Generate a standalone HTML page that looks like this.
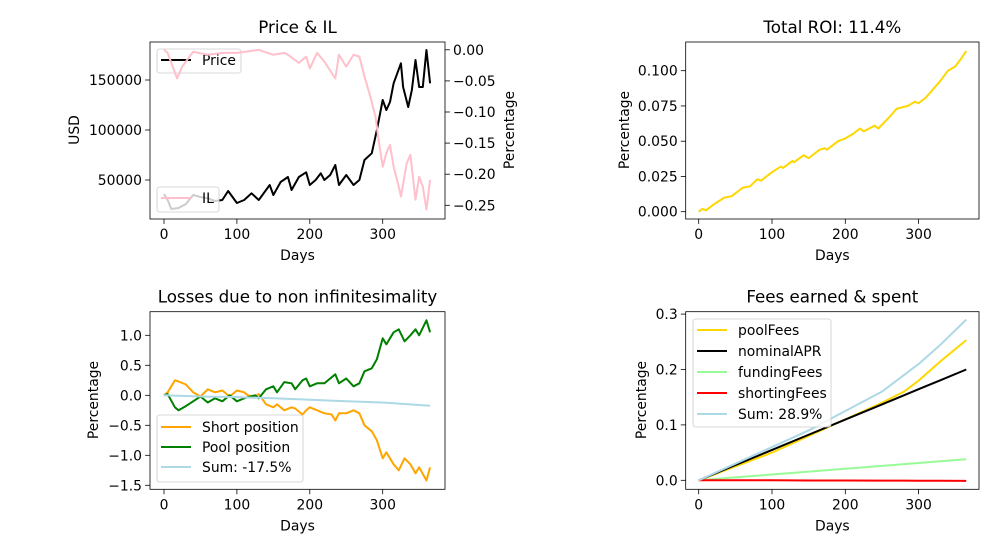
<!DOCTYPE html>
<html><head><meta charset="utf-8">
<style>
html,body{margin:0;padding:0;background:#fff;}
svg{display:block;font-family:"DejaVu Sans","Liberation Sans",sans-serif;}
</style></head>
<body>
<svg id="fig" width="1001" height="555" viewBox="0 0 1001 555"></svg>
<script>
// ---- Data ----
const priceDays = [0,5,10,20,30,40,50,60,70,80,88,100,110,120,130,140,145,150,160,170,175,185,195,200,208,215,220,228,235,240,250,260,268,275,285,292,300,305,310,315,320,325,328,335,340,345,350,355,360,365];
const priceVals = [36000,30000,21000,22000,26000,35000,33000,31700,29000,30000,39000,27000,30000,36700,30000,40000,45000,35000,48000,53000,40000,53000,57700,45000,50000,56700,50000,55000,65000,45000,55000,45000,50000,70000,76700,100000,130000,120000,128000,146700,156700,166700,143000,123000,140000,170000,143000,143000,180000,146700];
const ilDays = [0,5,10,18,25,40,60,80,100,130,150,165,170,185,195,200,210,220,235,240,250,260,268,275,283,290,295,300,305,310,315,322,325,333,338,345,350,355,360,365];
const ilVals = [0,-0.005,-0.021,-0.046,-0.027,-0.003,-0.008,-0.005,-0.005,0,-0.008,-0.005,-0.008,-0.021,-0.011,-0.030,-0.005,-0.019,-0.046,-0.008,-0.027,-0.008,-0.011,-0.043,-0.075,-0.107,-0.150,-0.188,-0.166,-0.153,-0.188,-0.220,-0.236,-0.182,-0.169,-0.241,-0.204,-0.220,-0.257,-0.209];
const roiDays = [0,5,10,20,35,45,60,70,80,85,100,112,115,128,130,143,150,165,172,175,190,200,210,220,225,240,245,260,270,285,295,300,310,320,330,340,350,360,365];
const roiVals = [0,0.002,0.001,0.005,0.010,0.011,0.017,0.018,0.023,0.022,0.028,0.032,0.031,0.036,0.035,0.040,0.038,0.044,0.045,0.044,0.050,0.052,0.055,0.059,0.057,0.061,0.059,0.067,0.073,0.075,0.078,0.077,0.081,0.087,0.093,0.100,0.103,0.110,0.114];
const lossDays = [0,5,15,20,30,40,50,60,70,80,90,100,110,115,125,130,140,150,155,165,175,180,190,195,200,210,220,230,235,240,250,260,268,275,285,292,300,305,315,322,330,338,345,350,360,365];
const poolPos = [0,0.02,-0.2,-0.25,-0.18,-0.1,-0.02,-0.12,-0.05,-0.1,0,-0.1,-0.05,-0.03,0,-0.05,0.1,0.15,0.05,0.22,0.2,0.1,0.25,0.28,0.15,0.2,0.2,0.3,0.35,0.2,0.28,0.15,0.2,0.4,0.45,0.6,0.95,0.85,1.05,1.1,0.9,1.0,1.1,1.0,1.25,1.05];
const shortPos = [0,0.05,0.25,0.23,0.18,0.05,-0.02,0.1,0.05,0.08,-0.02,0.08,0.05,0,-0.02,0.02,-0.15,-0.2,-0.15,-0.25,-0.2,-0.22,-0.32,-0.25,-0.2,-0.25,-0.3,-0.32,-0.42,-0.3,-0.3,-0.25,-0.3,-0.5,-0.6,-0.75,-1.05,-0.95,-1.15,-1.25,-1.05,-1.15,-1.3,-1.2,-1.42,-1.2];
const sumLossDays = [0,50,100,150,200,250,300,365];
const sumLossVals = [0,-0.02,-0.03,-0.05,-0.075,-0.1,-0.12,-0.175];
const feeDays = [0,50,100,150,200,250,280,300,330,365];
const poolFees = [0,0.025,0.05,0.08,0.11,0.14,0.16,0.18,0.215,0.253];
const nominalAPR = [0,0.0274,0.0548,0.0822,0.1096,0.137,0.1534,0.1644,0.1808,0.2];
const fundingFees = [0,0.0052,0.0104,0.0156,0.0208,0.026,0.0291,0.0312,0.0343,0.038];
const shortingFees = [0,0,0,-0.0003,-0.0004,-0.0005,-0.0006,-0.0007,-0.0008,-0.001];
const feeSum = [0,0.03,0.06,0.09,0.125,0.16,0.19,0.21,0.245,0.29];
const xTicks = [0,100,200,300];
const priceTicks = [50000,100000,150000];
const ilTicks = [0,-0.05,-0.10,-0.15,-0.20,-0.25];
const roiTicks = [0,0.025,0.05,0.075,0.1];
const lossTicks = [1.0,0.5,0.0,-0.5,-1.0,-1.5];
const feeTicks = [0,0.1,0.2,0.3];

const NS="http://www.w3.org/2000/svg";
const svg=document.getElementById('fig');
function el(tag,attrs,parent){const e=document.createElementNS(NS,tag);for(const k in attrs)e.setAttribute(k,attrs[k]);(parent||svg).appendChild(e);return e;}
function txt(s,attrs,parent){const t=el('text',attrs,parent);t.textContent=s;return t;}
function fmt(v,d){return (v<0?'\u2212':'')+Math.abs(v).toFixed(d);}
function lin(d0,d1,r0,r1){return v=>r0+(v-d0)*(r1-r0)/(d1-d0);}

function axes(name,L,R,T,B,xs,title){
  const g=el('g',{});
  
  
  txt(title,{x:(L+R)/2,y:T-9,'text-anchor':'middle','font-size':16.7,fill:'#000'},g);
  xTicks.forEach(t=>{const x=xs(t);
    el('line',{x1:x,x2:x,y1:B,y2:B+4.9,stroke:'#000','stroke-width':0.8},g);
    const l=txt(String(t),{x:x,y:B+20,'text-anchor':'middle','font-size':13.9},g);
    });
  const xl=txt('Days',{x:(L+R)/2,y:B+41,'text-anchor':'middle','font-size':13.9},g);
  
  return g;
}
function yTicks(g,ticks,ys,L,dec,side){
  ticks.forEach(t=>{const y=ys(t);
    if(side==='right'){el('line',{x1:L,x2:L+4.9,y1:y,y2:y,stroke:'#000','stroke-width':0.8},g);
      txt(fmt(t,dec),{x:L+8,y:y+5,'text-anchor':'start','font-size':13.9},g);}
    else{el('line',{x1:L-4.9,x2:L,y1:y,y2:y,stroke:'#000','stroke-width':0.8},g);
      const l=txt(fmt(t,dec),{x:L-8,y:y+5,'text-anchor':'end','font-size':13.9},g);
      }});
}
function ylabel(g,s,x,y,name){const t=txt(s,{x:x,y:y,'text-anchor':'middle','font-size':13.9,transform:`rotate(-90 ${x} ${y})`},g);}
function line(g,days,vals,xs,ys,color,name,clip){
  const p=el('polyline',{points:days.map((d,i)=>xs(d).toFixed(2)+','+ys(vals[i]).toFixed(2)).join(' '),fill:'none',stroke:color,'stroke-width':2,'stroke-linejoin':'round'},g);
  if(clip)p.setAttribute('clip-path',clip);
  
  
}
function frame(g,L,R,T,B){el('rect',{x:L,y:T,width:R-L,height:B-T,fill:'none',stroke:'#000','stroke-width':0.8},g);}
function legend(g,x,y,w,h,entries,name){
  const lg=el('g',{},g);
  
  
  el('rect',{x:x,y:y,width:w,height:h,rx:2.5,fill:'rgba(255,255,255,0.8)',stroke:'#ccc','stroke-width':0.8},lg);
  entries.forEach(e=>{el('line',{x1:x+4,x2:x+34,y1:e.y,y2:e.y,stroke:e.c,'stroke-width':2},lg);
    const t=txt(e.t,{x:x+45,y:e.y+5,'font-size':13.9},lg);
    });
}

// Panel 1
{const L=150,R=445,T=42,B=219;
 const xs=lin(0,100,164,236.9);
 const yp=lin(50000,150000,180,80);
 const yi=lin(0,-0.25,49.8,205.3);
 const g=axes('price-il-panel',L,R,T,B,xs,'Price & IL');
 yTicks(g,priceTicks,yp,L,0,'left');
 yTicks(g,ilTicks,yi,R,2,'right');
 ylabel(g,'USD',79,130,'y-axis-title');
 ylabel(g,'Percentage',514,130,'y-axis-title-right');
 line(g,priceDays,priceVals,xs,yp,'#000','price-line');
 legend(g,157,49,84,24,[{y:60,c:'#000',t:'Price'}],'price-legend');
 line(g,ilDays,ilVals,xs,yi,'#ffc0cb','il-line');
 legend(g,157,187,62,25,[{y:198,c:'#ffc0cb',t:'IL'}],'il-legend');
 frame(g,L,R,T,B);}
// Panel 2
{const L=685.7,R=979,T=42,B=219;
 const xs=lin(0,100,698.7,772);
 const ys=lin(0,0.1,211.7,70.7);
 const g=axes('roi-panel',L,R,T,B,xs,'Total ROI: 11.4%');
 yTicks(g,roiTicks,ys,L,3,'left');
 ylabel(g,'Percentage',629,130,'y-axis-title');
 line(g,roiDays,roiVals,xs,ys,'#ffd700','roi-line');
 frame(g,L,R,T,B);}
// Panel 3
{const L=150,R=445,T=311.7,B=489.3;
 const xs=lin(0,100,164,236.9);
 const ys=lin(0,1,395.3,335.3);
 const g=axes('losses-panel',L,R,T,B,xs,'Losses due to non infinitesimality');
 yTicks(g,lossTicks,ys,L,1,'left');
 ylabel(g,'Percentage',98,400,'y-axis-title');
 line(g,lossDays,shortPos,xs,ys,'#ffa500','short-position-line');
 line(g,lossDays,poolPos,xs,ys,'#008000','pool-position-line');
 line(g,sumLossDays,sumLossVals,xs,ys,'#add8e6','sum-line');
 legend(g,157,415,146,67,[{y:427,c:'#ffa500',t:'Short position'},{y:447,c:'#008000',t:'Pool position'},{y:467,c:'#add8e6',t:'Sum: -17.5%'}],'losses-legend');
 frame(g,L,R,T,B);}
// Panel 4
{const L=685.7,R=979,T=311.7,B=489.3;
 const xs=lin(0,100,698.7,772);
 const ys=lin(0,0.1,480.3,424.9);
 const g=axes('fees-panel',L,R,T,B,xs,'Fees earned & spent');
 yTicks(g,feeTicks,ys,L,1,'left');
 ylabel(g,'Percentage',646,400,'y-axis-title');
 line(g,feeDays,poolFees,xs,ys,'#ffd700','pool-fees-line');
 line(g,feeDays,nominalAPR,xs,ys,'#000','nominal-apr-line');
 line(g,feeDays,fundingFees,xs,ys,'#98fb98','funding-fees-line');
 line(g,feeDays,shortingFees,xs,ys,'#ff0000','shorting-fees-line');
 line(g,feeDays,feeSum,xs,ys,'#add8e6','fees-sum-line');
 legend(g,693,319,138,108,[{y:330,c:'#ffd700',t:'poolFees'},{y:351,c:'#000',t:'nominalAPR'},{y:372,c:'#98fb98',t:'fundingFees'},{y:393,c:'#ff0000',t:'shortingFees'},{y:414,c:'#add8e6',t:'Sum: 28.9%'}],'fees-legend');
 frame(g,L,R,T,B);}
</script>
</body></html>
